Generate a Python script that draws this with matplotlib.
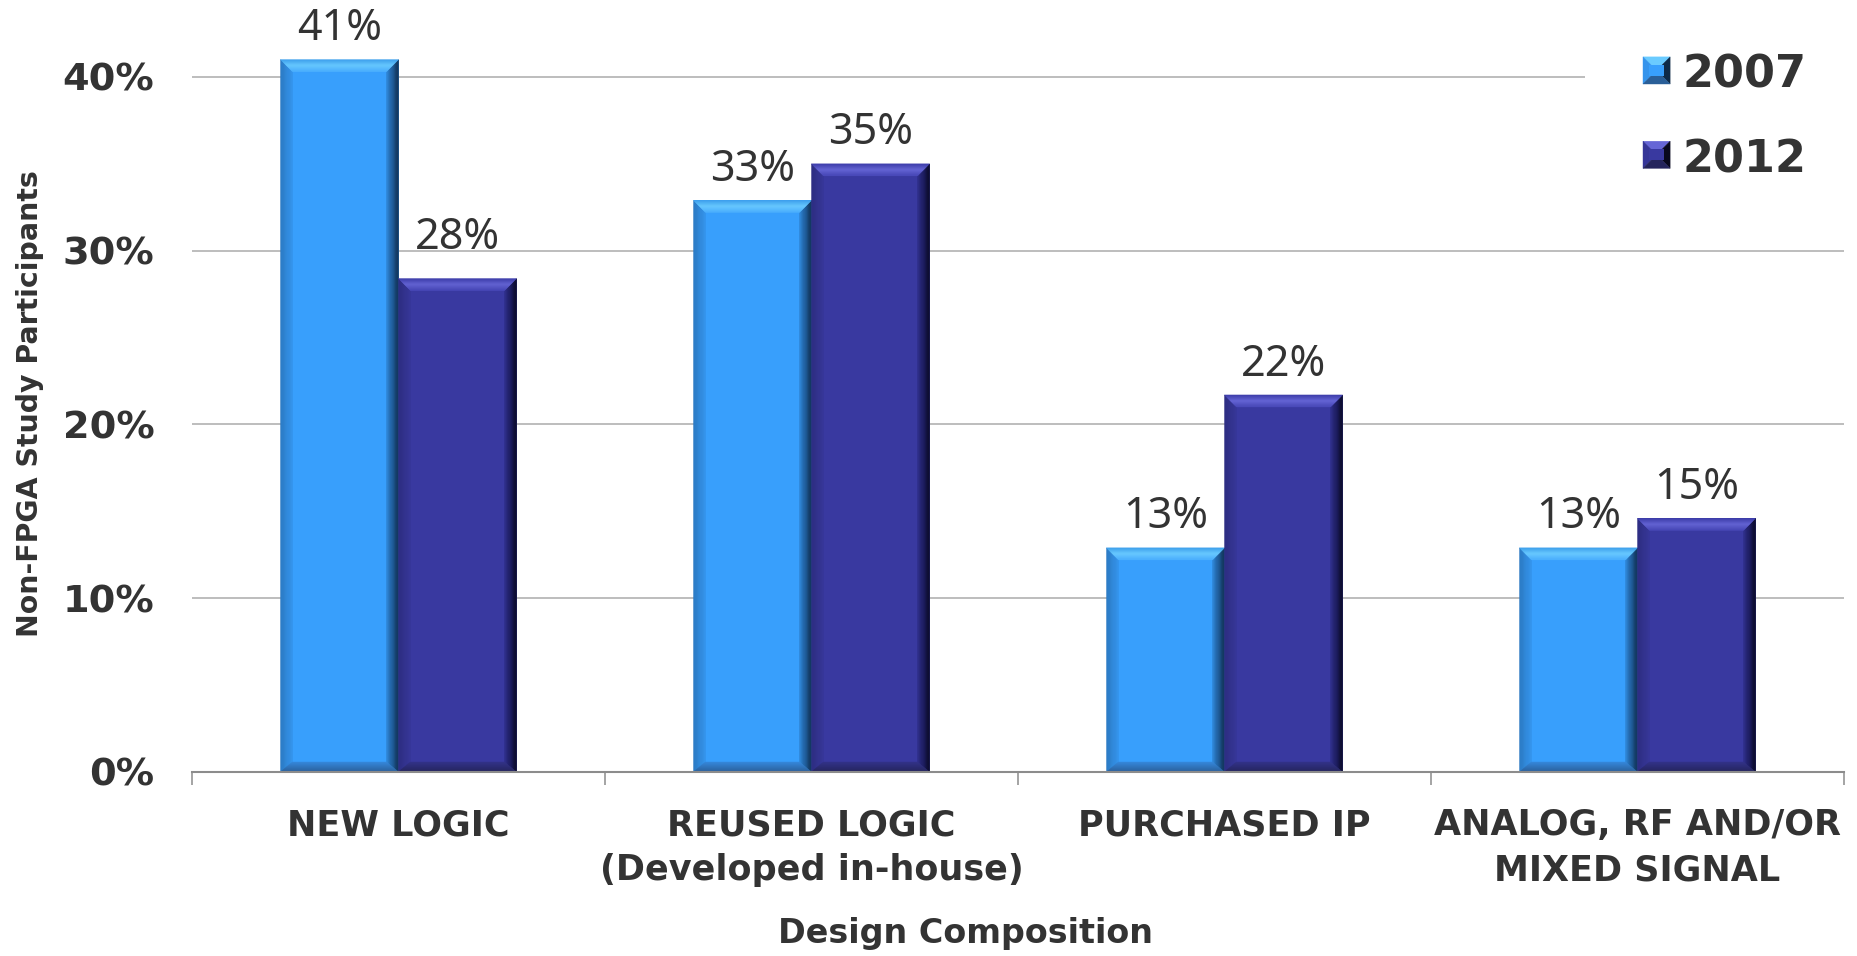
import numpy as np
import matplotlib
matplotlib.use("Agg")
import matplotlib.pyplot as plt
from matplotlib.patches import Polygon, Rectangle
from matplotlib.legend_handler import HandlerBase
from matplotlib.colors import to_rgb

# ---- data -------------------------------------------------------------
categories = ["NEW LOGIC",
              "REUSED LOGIC\n(Developed in-house)",
              "PURCHASED IP",
              "ANALOG, RF AND/OR\nMIXED SIGNAL"]
series_names = ["2007", "2012"]
values_2007 = [41.0, 32.9, 12.9, 12.9]
values_2012 = [28.4, 35.0, 21.7, 14.6]
y_ticks = [0, 10, 20, 30, 40]
y_tick_labels = ["0%", "10%", "20%", "30%", "40%"]

# ---- styling ----------------------------------------------------------
TEXT = "#333333"
GRID = "#ABABAB"
AXIS = "#8C8C8C"

STYLE = {
    "2007": dict(face="#389FFC",
                 top=["#3C9EEA", "#6ACBFF", "#4DB0FE"],
                 left=["#2A78C0", "#3594EC"],
                 right=["#0E2A48", "#1D5690", "#2F86D6"],
                 bottom=["#2A5F98", "#3487DA"]),
    "2012": dict(face="#3939A0",
                 top=["#3B3BA8", "#6666D6", "#4848B8"],
                 left=["#2C2C80", "#363698"],
                 right=["#08081E", "#1A1A5A", "#30308A"],
                 bottom=["#24245C", "#323288"]),
}
# extra lift (points) for individual value labels: (series, category index)
LABEL_LIFT = {("2012", 0): 7}

W, H, DPI = 1857, 956, 100
fig = plt.figure(figsize=(W / DPI, H / DPI), dpi=DPI)
fig.patch.set_facecolor("white")

AX_L, AX_R, AX_B, AX_T = 192, 1844, 772, 0   # plot area in pixels (from top)
ax = fig.add_axes([AX_L / W, 1 - AX_B / H, (AX_R - AX_L) / W, (AX_B - AX_T) / H])

YMAX = 44.43
ax.set_xlim(-0.5, len(categories) - 0.5)
ax.set_ylim(0, YMAX)

px_x = (AX_R - AX_L) / len(categories)   # pixels per x unit
px_y = (AX_B - AX_T) / YMAX              # pixels per y unit

x = np.arange(len(categories))
bw = 1 / 3.5
bars07 = ax.bar(x - bw / 2, values_2007, width=bw, color=STYLE["2007"]["face"],
                linewidth=0, zorder=2)
bars12 = ax.bar(x + bw / 2, values_2012, width=bw, color=STYLE["2012"]["face"],
                linewidth=0, zorder=2)


def lerp(p, q, t):
    return (p[0] + (q[0] - p[0]) * t, p[1] + (q[1] - p[1]) * t)


def color_at(stops, t):
    cols = [np.array(to_rgb(c)) for c in stops]
    if len(cols) == 1:
        return tuple(cols[0])
    pos = t * (len(cols) - 1)
    i = min(int(pos), len(cols) - 2)
    f = pos - i
    return tuple(cols[i] * (1 - f) + cols[i + 1] * f)


def gradient_band(ax, outer, inner, stops, n=10, zorder=3):
    """Fill the quad between the outer edge and the inner edge with a gradient."""
    (p0, p1), (q0, q1) = outer, inner
    for k in range(n):
        t0, t1 = k / n, (k + 1) / n
        pts = [lerp(p0, q0, t0), lerp(p1, q1, t0), lerp(p1, q1, t1), lerp(p0, q0, t1)]
        c = color_at(stops, (t0 + t1) / 2)
        ax.add_patch(Polygon(pts, closed=True, facecolor=c, edgecolor=c,
                             linewidth=0.3, zorder=zorder))


def bevel(ax, rect, st, b_top=12, b_side=12, b_bot=10):
    x0 = rect.get_x(); x1 = x0 + rect.get_width()
    y0 = rect.get_y(); y1 = y0 + rect.get_height()
    bx = b_side / px_x
    bt = b_top / px_y
    bb = b_bot / px_y
    # inner corners
    itl = (x0 + bx, y1 - bt); itr = (x1 - bx, y1 - bt)
    ibl = (x0 + bx, y0 + bb); ibr = (x1 - bx, y0 + bb)
    gradient_band(ax, ((x0, y0), (x0, y1)), (ibl, itl), st["left"])
    gradient_band(ax, ((x1, y0), (x1, y1)), (ibr, itr), st["right"], n=14)
    gradient_band(ax, ((x0, y0), (x1, y0)), (ibl, ibr), st["bottom"])
    gradient_band(ax, ((x0, y1), (x1, y1)), (itl, itr), st["top"], n=12)


for name, bars in zip(series_names, [bars07, bars12]):
    for r in bars.patches:
        bevel(ax, r, STYLE[name])

# value labels
for name, bars, vals in [("2007", bars07, values_2007), ("2012", bars12, values_2012)]:
    for i, (r, v) in enumerate(zip(bars.patches, vals)):
        lift = 14 + LABEL_LIFT.get((name, i), 0)
        ax.annotate(f"{v:.0f}%", (r.get_x() + r.get_width() / 2, v),
                    xytext=(0, lift), textcoords="offset points",
                    ha="center", va="baseline", fontsize=31, color=TEXT,
                    family=["Noto Sans", "DejaVu Sans"], annotation_clip=False,
                    zorder=5)

# axes styling
for s in ["top", "right", "left"]:
    ax.spines[s].set_visible(False)
ax.spines["bottom"].set_color(AXIS)
ax.spines["bottom"].set_linewidth(1.5)
ax.spines["bottom"].set_zorder(4)

ax.set_axisbelow(True)
ax.yaxis.grid(True, color=GRID, linewidth=1.1)
ax.set_yticks(y_ticks, y_tick_labels)
ax.tick_params(axis="y", length=0, pad=27, labelsize=27.5, labelcolor=TEXT)
for t in ax.get_yticklabels():
    t.set_fontweight("bold")

ax.set_xticks(x, categories)
ax.set_xticks(np.arange(len(categories) + 1) - 0.5, minor=True)
ax.tick_params(axis="x", which="major", length=0, pad=26, labelsize=25.2,
               labelcolor=TEXT)
ax.tick_params(axis="x", which="minor", length=9.5, width=1.1, color=AXIS,
               direction="out")
for t in ax.get_xticklabels():
    t.set_fontweight("bold")
    t.set_linespacing(1.42)

fig.text(965 / W, 1 - 934 / H, "Design Composition", ha="center", va="center",
         fontsize=24, fontweight="bold", color=TEXT)
fig.text(30 / W, 1 - 404 / H, "Non-FPGA Study Participants", ha="center",
         va="center", rotation=90, fontsize=20.4, fontweight="bold", color=TEXT)

# white backing behind the legend
ax_w = AX_R - AX_L
ax_h = AX_B - AX_T
ax.add_patch(Rectangle(((1585 - AX_L) / ax_w, (AX_B - 210) / ax_h),
                       (W - 1585) / ax_w, 210 / ax_h, transform=ax.transAxes,
                       facecolor="white", edgecolor="none", clip_on=False,
                       zorder=1))


class BevelSquare(HandlerBase):
    def __init__(self, st):
        super().__init__()
        self.st = st

    def create_artists(self, legend, orig_handle, xdescent, ydescent, width,
                       height, fontsize, trans):
        s = 0.61 * fontsize
        x0 = -xdescent
        y0 = 0.09 * fontsize
        cx, cy = x0 + s / 2, y0 + s / 2
        bl, br = (x0, y0), (x0 + s, y0)
        tl, tr = (x0, y0 + s), (x0 + s, y0 + s)
        st = self.st
        arts = []
        for pts, c in [([tl, tr, (cx, cy)], st["top"][1]),
                       ([bl, tl, (cx, cy)], st["left"][1]),
                       ([br, tr, (cx, cy)], st["right"][0]),
                       ([bl, br, (cx, cy)], st["bottom"][0])]:
            arts.append(Polygon(pts, closed=True, facecolor=c, edgecolor=c,
                                linewidth=0.3, transform=trans))
        arts.append(Rectangle((x0 + s * 0.22, y0 + s * 0.3), s * 0.56, s * 0.4,
                              facecolor=st["face"], edgecolor="none",
                              transform=trans))
        return arts


h07, h12 = bars07.patches[0], bars12.patches[0]
leg = ax.legend([h07, h12], series_names,
                handler_map={h07: BevelSquare(STYLE["2007"]),
                             h12: BevelSquare(STYLE["2012"])},
                loc="upper left", bbox_to_anchor=(1643 / W, 1 - 54 / H),
                bbox_transform=fig.transFigure, frameon=False, borderpad=0,
                borderaxespad=0, handlelength=0.61, handleheight=0.8,
                handletextpad=0.29, labelspacing=0.93,
                prop=dict(size=32, weight="bold"))
for t in leg.get_texts():
    t.set_color(TEXT)
leg.set_zorder(6)

fig.savefig("out.png", dpi=DPI, facecolor="white")
